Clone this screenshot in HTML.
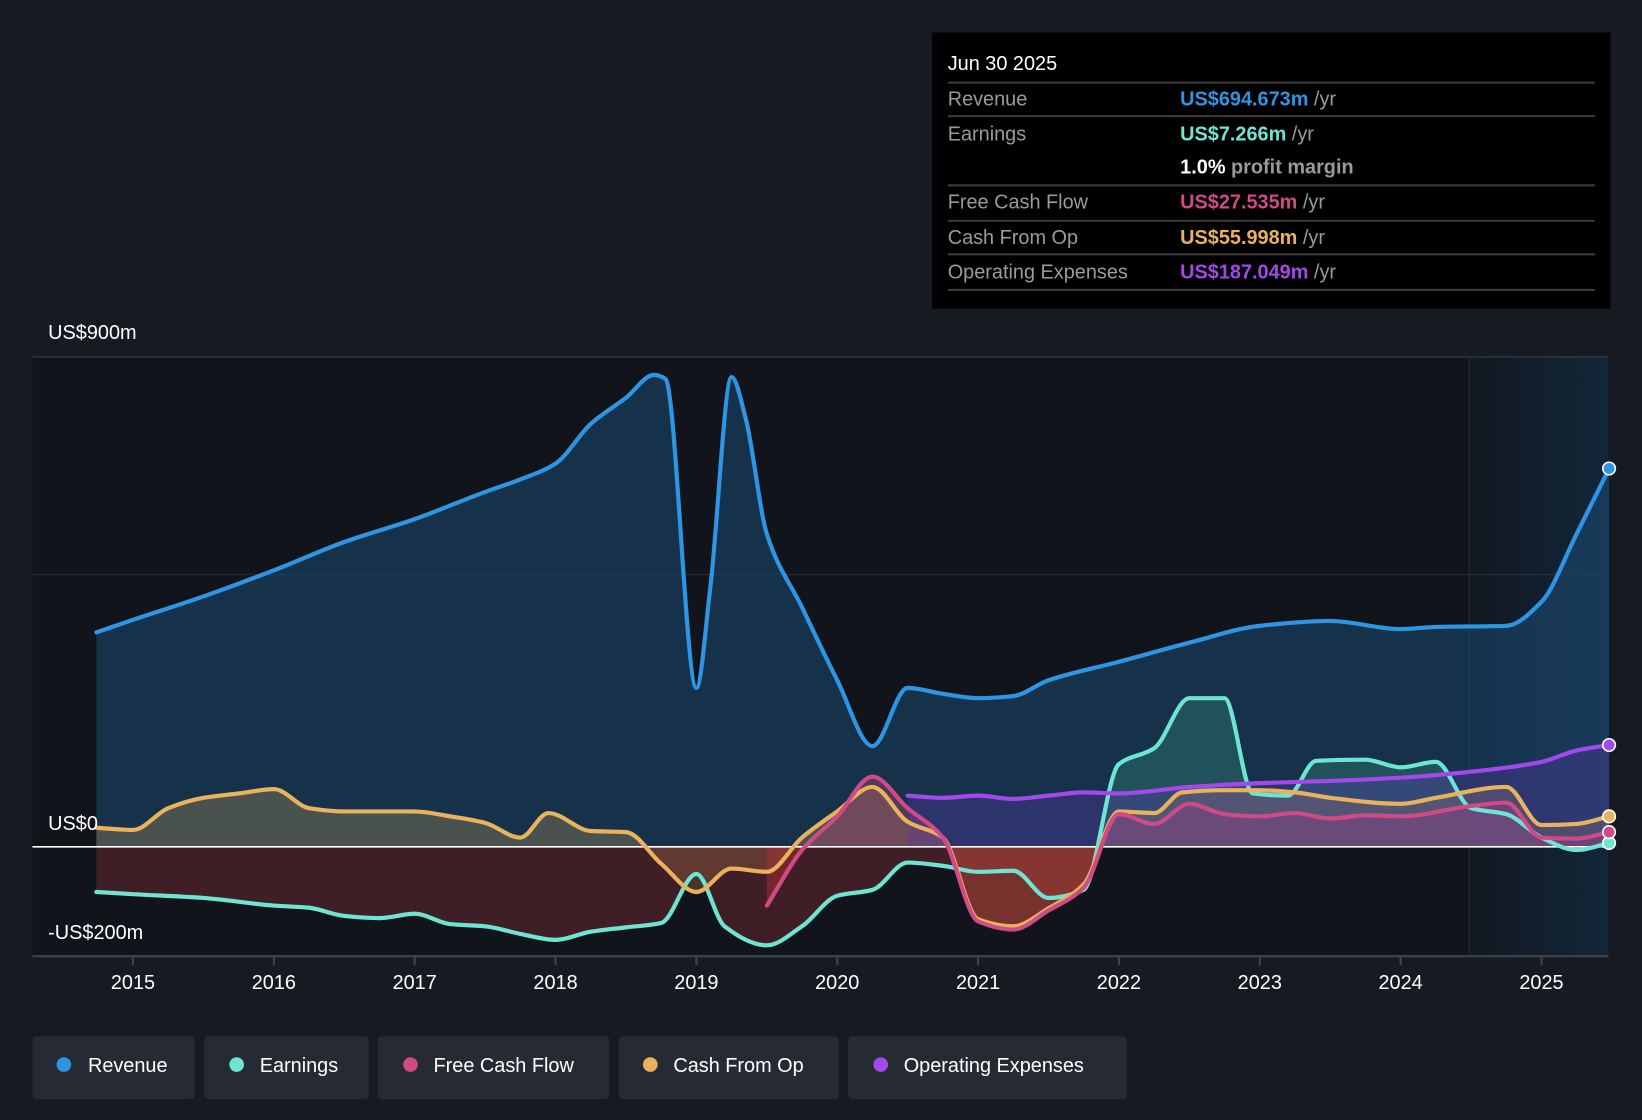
<!DOCTYPE html>
<html><head><meta charset="utf-8"><style>
html,body{margin:0;padding:0;background:#161b22;width:1642px;height:1120px;overflow:hidden}
svg{display:block;font-family:"Liberation Sans",sans-serif}
</style></head><body>
<svg id="chart" width="1642" height="1120" viewBox="0 0 1568 1070" preserveAspectRatio="none" xmlns="http://www.w3.org/2000/svg">
<defs>
<linearGradient id="fcGrad" x1="0" x2="1" y1="0" y2="0"><stop offset="0" stop-color="#111821"/><stop offset="1" stop-color="#13263a"/></linearGradient>
<clipPath id="above"><rect x="0" y="0" width="1568" height="809"/></clipPath>
<clipPath id="below"><rect x="0" y="809" width="1568" height="300"/></clipPath>
</defs>
<rect width="1568" height="1070" fill="#161b22"/>
<rect x="31" y="341" width="1505" height="572" fill="#11151b"/>
<rect x="1403" y="341" width="133" height="572" fill="url(#fcGrad)"/>
<line x1="1403" y1="341" x2="1403" y2="913" stroke="#1d2b3a" stroke-width="1"/>
<line x1="31" y1="341" x2="1536" y2="341" stroke="#3a4048" stroke-width="1"/>
<line x1="31" y1="549" x2="1536" y2="549" stroke="#2a3038" stroke-width="1"/>
<g id="fills"></g>
<line x1="31" y1="809" x2="1536" y2="809" stroke="#ffffff" stroke-width="1.5"/>
<g id="lines"></g>
<line x1="31" y1="913.5" x2="1536" y2="913.5" stroke="#40454d" stroke-width="2"/>
<g id="xticks"></g>
<text x="46" y="324" fill="#fff" font-size="19">US$900m</text>
<text x="46" y="793" fill="#fff" font-size="19">US$0</text>
<text x="46" y="897" fill="#fff" font-size="19">-US$200m</text>

<g>
<rect x="890" y="31" width="648" height="264" fill="#000"/>
<text x="905" y="67" fill="#fff" font-size="19">Jun 30 2025</text>
<g stroke="#3a3a3a" stroke-width="2">
<line x1="905" y1="79" x2="1523" y2="79"/><line x1="905" y1="111" x2="1523" y2="111"/>
<line x1="905" y1="177" x2="1523" y2="177"/><line x1="905" y1="211" x2="1523" y2="211"/>
<line x1="905" y1="243" x2="1523" y2="243"/><line x1="905" y1="277" x2="1523" y2="277"/>
</g>
<g font-size="19">
<text x="905" y="101" fill="#9a9a9a">Revenue</text>
<text x="1127" y="101"><tspan fill="#2d95e3" font-weight="bold">US$694.673m</tspan><tspan fill="#9a9a9a"> /yr</tspan></text>
<text x="905" y="134" fill="#9a9a9a">Earnings</text>
<text x="1127" y="134"><tspan fill="#6ee5d2" font-weight="bold">US$7.266m</tspan><tspan fill="#9a9a9a"> /yr</tspan></text>
<text x="1127" y="166"><tspan fill="#fff" font-weight="bold">1.0%</tspan><tspan fill="#9a9a9a" font-weight="bold"> profit margin</tspan></text>
<text x="905" y="199" fill="#9a9a9a">Free Cash Flow</text>
<text x="1127" y="199"><tspan fill="#d04a86" font-weight="bold">US$27.535m</tspan><tspan fill="#9a9a9a"> /yr</tspan></text>
<text x="905" y="233" fill="#9a9a9a">Cash From Op</text>
<text x="1127" y="233"><tspan fill="#e9b25c" font-weight="bold">US$55.998m</tspan><tspan fill="#9a9a9a"> /yr</tspan></text>
<text x="905" y="266" fill="#9a9a9a">Operating Expenses</text>
<text x="1127" y="266"><tspan fill="#a348ea" font-weight="bold">US$187.049m</tspan><tspan fill="#9a9a9a"> /yr</tspan></text>
</g>
</g>

<g font-size="19" fill="#fff">
<g><rect x="31" y="990" width="155" height="60" rx="4" fill="#262b33"/><circle cx="61" cy="1017" r="7" fill="#2d95e3"/><text x="84" y="1024" fill="#fff">Revenue</text></g>
<g><rect x="195" y="990" width="157" height="60" rx="4" fill="#262b33"/><circle cx="226" cy="1017" r="7" fill="#6ee5d2"/><text x="248" y="1024" fill="#fff">Earnings</text></g>
<g><rect x="361" y="990" width="221" height="60" rx="4" fill="#262b33"/><circle cx="392" cy="1017" r="7" fill="#d04a86"/><text x="414" y="1024" fill="#fff">Free Cash Flow</text></g>
<g><rect x="591" y="990" width="210" height="60" rx="4" fill="#262b33"/><circle cx="621" cy="1017" r="7" fill="#e9b25c"/><text x="643" y="1024" fill="#fff">Cash From Op</text></g>
<g><rect x="810" y="990" width="266" height="60" rx="4" fill="#262b33"/><circle cx="841" cy="1017" r="7" fill="#a348ea"/><text x="863" y="1024" fill="#fff">Operating Expenses</text></g>
</g>
</svg>
<script>
const years = [2015,2016,2017,2018,2019,2020,2021,2022,2023,2024,2025];
const revT = [2014.74,2015.0,2015.5,2016,2016.5,2017,2017.5,2017.75,2018,2018.25,2018.5,2018.7,2018.78,2019.0,2019.1,2019.25,2019.35,2019.5,2019.75,2020,2020.25,2020.5,2020.75,2021,2021.25,2021.5,2022,2022.5,2023,2023.5,2024,2024.25,2024.75,2025,2025.25,2025.48];
const revV = [394,417,460,508,560,602,652,675,704,777,825,867,860,292,479,863,787,575,440,306,185,292,281,273,277,306,340,375,406,415,400,404,406,450,575,695];
const earnT = [2014.74,2015,2015.5,2016,2016.25,2016.5,2016.75,2017,2017.25,2017.5,2017.75,2018,2018.25,2018.5,2018.75,2019.0,2019.2,2019.5,2019.75,2020,2020.25,2020.5,2020.75,2021,2021.25,2021.5,2021.75,2022,2022.25,2022.5,2022.75,2022.95,2023.2,2023.4,2023.75,2024,2024.25,2024.5,2024.75,2025,2025.25,2025.48];
const earnV = [-83,-87,-94,-108,-112,-127,-131,-123,-142,-146,-160,-171,-156,-148,-140,-50,-146,-181,-146,-90,-79,-29,-35,-46,-44,-94,-79,152,181,273,273,98,94,158,160,146,156,71,60,17,-6,7];
const cfoT = [2014.74,2015,2015.25,2015.5,2015.75,2016,2016.25,2016.5,2017,2017.25,2017.5,2017.75,2017.95,2018.25,2018.5,2018.75,2019.0,2019.25,2019.5,2019.75,2020,2020.25,2020.5,2020.75,2021,2021.25,2021.5,2021.75,2022,2022.25,2022.45,2022.75,2023,2023.25,2023.5,2024,2024.25,2024.75,2025,2025.25,2025.48];
const cfoV = [35,31,71,90,98,106,71,65,65,56,44,17,62,29,27,-31,-83,-40,-46,17,65,110,46,17,-133,-146,-113,-69,65,62,100,104,104,100,90,79,90,110,40,42,56];
const fcfT = [2019.5,2019.75,2020,2020.25,2020.5,2020.75,2021,2021.25,2021.5,2021.75,2022,2022.25,2022.5,2022.75,2023,2023.25,2023.5,2023.75,2024,2024.5,2024.75,2025,2025.25,2025.48];
const fcfV = [-108,-6,56,129,71,17,-137,-152,-117,-75,60,42,79,60,56,62,52,58,56,75,81,17,15,27];
const opxT = [2020.5,2020.75,2021,2021.25,2021.5,2021.75,2022,2022.5,2023,2023.5,2024,2024.5,2025,2025.25,2025.48];
const opxV = [94,90,94,88,94,100,98,110,117,121,127,138,156,177,187];

const X = t => 127 + (t - 2015) * 134.5;
const Y = v => 809 - v * 0.52;
const NS = 'http://www.w3.org/2000/svg';

function pathD(T, V) {
  const p = T.map((t, i) => [X(t), Y(V[i])]);
  const n = p.length;
  const dx = [], s = [];
  for (let i = 0; i < n - 1; i++) { dx.push(p[i+1][0]-p[i][0]); s.push((p[i+1][1]-p[i][1])/dx[i]); }
  const m = [s[0]];
  for (let i = 1; i < n - 1; i++) {
    if (s[i-1]*s[i] <= 0) m.push(0);
    else { const w1 = 2*dx[i]+dx[i-1], w2 = dx[i]+2*dx[i-1]; m.push((w1+w2)/(w1/s[i-1]+w2/s[i])); }
  }
  m.push(s[n-2]);
  let d = 'M' + p[0][0] + ',' + p[0][1];
  for (let i = 0; i < n - 1; i++) {
    const h = dx[i] / 3;
    d += ' C' + (p[i][0]+h) + ',' + (p[i][1]+m[i]*h) + ' ' + (p[i+1][0]-h) + ',' + (p[i+1][1]-m[i+1]*h) + ' ' + p[i+1][0] + ',' + p[i+1][1];
  }
  return d;
}
const fills = document.getElementById('fills');
const lines = document.getElementById('lines');
function addArea(name, d, T, fill, op, clip) {
  const area = document.createElementNS(NS, 'path');
  area.setAttribute('d', d + ' L' + X(T[T.length - 1]) + ',809 L' + X(T[0]) + ',809 Z');
  area.setAttribute('fill', fill);
  area.setAttribute('fill-opacity', op);
  if (clip) area.setAttribute('clip-path', 'url(#' + clip + ')');
  
  
  fills.appendChild(area);
}
function series(name, T, V, color, fillUp, fillDown, fillOp) {
  const d = pathD(T, V);
  addArea(name + '-area-positive', d, T, fillUp, fillOp, 'above');
  addArea(name + '-area-negative', d, T, fillDown, fillOp, 'below');
  const ln = document.createElementNS(NS, 'path');
  ln.setAttribute('d', d);
  ln.setAttribute('fill', 'none');
  ln.setAttribute('stroke', color);
  ln.setAttribute('stroke-width', '4');
  ln.setAttribute('stroke-linecap', 'round');
  
  
  lines.appendChild(ln);
  const c = document.createElementNS(NS, 'circle');
  c.setAttribute('cx', X(T[T.length - 1]));
  c.setAttribute('cy', Y(V[V.length - 1]));
  c.setAttribute('r', 6);
  c.setAttribute('fill', color);
  c.setAttribute('stroke', '#fff');
  c.setAttribute('stroke-width', '1.5');
  
  
  lines.appendChild(c);
}
series('revenue', revT, revV, '#2d95e3', '#1b4a72', '#1b4a72', 0.55);
series('earnings', earnT, earnV, '#6ee5d2', '#2f7a70', '#7a2a36', 0.45);
series('cash-from-op', cfoT, cfoV, '#e9b25c', '#8a7a55', '#8a5a40', 0.45);
series('free-cash-flow', fcfT, fcfV, '#d04a86', '#a0406a', '#b33030', 0.45);
series('operating-expenses', opxT, opxV, '#a348ea', '#5a3aa8', '#5a3aa8', 0.35);

const xt = document.getElementById('xticks');
years.forEach(y => {
  const l = document.createElementNS(NS, 'line');
  l.setAttribute('x1', X(y)); l.setAttribute('x2', X(y));
  l.setAttribute('y1', 913); l.setAttribute('y2', 922);
  l.setAttribute('stroke', '#40454d'); l.setAttribute('stroke-width', '2');
  
  
  xt.appendChild(l);
  const t = document.createElementNS(NS, 'text');
  t.setAttribute('x', X(y)); t.setAttribute('y', 945);
  t.setAttribute('text-anchor', 'middle');
  t.setAttribute('fill', '#fff'); t.setAttribute('font-size', '19');
  
  
  t.textContent = y;
  xt.appendChild(t);
});
</script>
</body></html>
